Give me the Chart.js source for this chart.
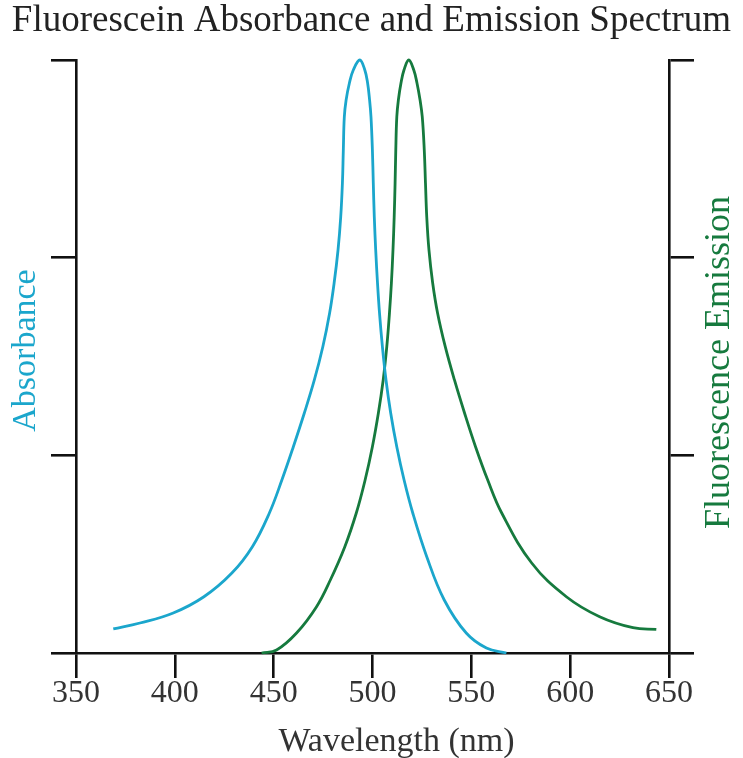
<!DOCTYPE html>
<html>
<head>
<meta charset="utf-8">
<script src="https://cdn.jsdelivr.net/npm/chart.js@4/dist/chart.umd.min.js"></script>
<style>
  html, body { margin: 0; padding: 0; background: #ffffff; }
  #wrap { width: 743px; height: 758px; position: relative; }
</style>
</head>
<body>
<div id="wrap"><canvas id="c" width="743" height="758"></canvas></div>
<script>
const chartTitle = 'Fluorescein Absorbance and Emission Spectrum';
const xAxisLabel = 'Wavelength (nm)';
const absorbanceLabel = 'Absorbance';
const emissionLabel = 'Fluorescence Emission';

const xTickValues = [350, 400, 450, 500, 550, 600, 650];
const yTickValues = [0, 33.333, 66.667, 100];

const absWavelength = [368.86, 382.36, 399.19, 414.71, 428.87, 439.23, 447.83, 454.15, 459.96, 465.52, 470.58, 474.87, 478.31, 480.59, 482.56, 483.92, 484.78, 485.24, 485.74, 486.65, 488.32, 490.29, 493.58,
                       496.11, 497.52, 498.53, 499.24, 499.95, 500.40, 500.91, 501.62, 502.53, 503.54, 505.01, 506.83, 509.20, 512.28, 515.98, 520.37, 527.45, 536.30, 547.42, 557.63, 567.75];
const absValue      = [4.05, 5.06, 6.75, 9.49, 13.49, 17.93, 23.61, 29.17, 34.79, 40.47, 46.04, 51.65, 57.34, 62.39, 67.96, 73.52, 79.26, 84.82, 90.39, 93.25, 96.12, 98.31, 100,
                       98.31, 96.12, 93.25, 90.39, 84.82, 79.26, 73.52, 67.96, 62.39, 57.34, 51.65, 46.04, 40.47, 34.79, 29.17, 23.61, 16.24, 8.94, 3.37, 0.84, 0];

const emWavelength = [443.88, 451.47, 461.58, 471.69, 478.67, 486.00, 491.81, 496.26, 499.95, 502.98, 505.41, 507.23, 508.59, 509.56, 510.36, 510.97, 511.43, 511.78, 512.29, 513.09, 514.41, 515.93, 518.35,
                      520.88, 522.50, 524.06, 525.18, 526.19, 526.80, 527.45, 528.56, 530.44, 532.91, 536.81, 541.46, 546.56, 552.12, 558.29, 565.37, 580.54, 598.08, 614.91, 631.75, 643.58];
const emValue      = [0, 0.51, 3.37, 7.81, 12.31, 17.93, 23.61, 29.17, 34.79, 40.47, 46.04, 51.65, 57.34, 62.39, 67.96, 73.52, 79.26, 84.82, 90.39, 93.25, 96.12, 98.31, 100,
                      98.31, 96.12, 93.25, 90.39, 84.82, 79.26, 73.52, 67.96, 62.39, 57.34, 51.65, 46.04, 40.47, 34.79, 29.17, 23.61, 15.18, 9.49, 6.12, 4.27, 4.0];

const blue = '#1ba6cc';
const green = '#167a3e';
const ink = '#111111';
const serif = '"Liberation Serif", "Times New Roman", serif';

const absData = absWavelength.map((x, i) => ({ x: x, y: absValue[i] }));
const emData = emWavelength.map((x, i) => ({ x: x, y: emValue[i] }));

// draws the axis titles (right one reads bottom-to-top like the reference)
const axisTitlePlugin = {
  id: 'axisTitles',
  afterDraw(chart, args, opts) {
    const ctx = chart.ctx;
    const area = chart.chartArea;
    const midY = (area.top + area.bottom) / 2;
    ctx.save();
    ctx.textAlign = 'center';
    ctx.textBaseline = 'middle';
    ctx.font = opts.xFont;
    ctx.fillStyle = opts.xColor;
    ctx.fillText(opts.xText, (area.left + area.right) / 2 + opts.xDx, opts.xY);
    ctx.restore();

    ctx.save();
    ctx.textAlign = 'center';
    ctx.textBaseline = 'middle';
    ctx.font = opts.lFont;
    ctx.fillStyle = opts.lColor;
    ctx.translate(opts.lX, midY + opts.lDy);
    ctx.rotate(-Math.PI / 2);
    ctx.fillText(opts.lText, 0, 0);
    ctx.restore();

    ctx.save();
    ctx.textAlign = 'center';
    ctx.textBaseline = 'middle';
    ctx.font = opts.rFont;
    ctx.fillStyle = opts.rColor;
    ctx.translate(opts.rX, midY + opts.rDy);
    ctx.rotate(-Math.PI / 2);
    ctx.fillText(opts.rText, 0, 0);
    ctx.restore();
  }
};

const fixTicks = (scale) => { scale.ticks = yTickValues.map(v => ({ value: v })); };

new Chart(document.getElementById('c'), {
  type: 'line',
  data: {
    datasets: [
      { label: absorbanceLabel, data: absData, yAxisID: 'y', borderColor: blue, borderWidth: 2.8,
        pointRadius: 0, tension: 0.4, fill: false, clip: false },
      { label: emissionLabel, data: emData, yAxisID: 'y2', borderColor: green, borderWidth: 2.8,
        pointRadius: 0, tension: 0.4, fill: false, clip: false }
    ]
  },
  options: {
    responsive: false,
    animation: false,
    events: [],
    layout: { padding: 0 },
    plugins: {
      legend: { display: false },
      tooltip: { enabled: false },
      title: {
        display: true, text: chartTitle, color: '#222222',
        font: { family: serif, size: 37, weight: 'normal', lineHeight: 1 },
        padding: { top: 3, bottom: 20 }
      },
      axisTitles: {
        xText: xAxisLabel, xColor: '#333333', xFont: '34px ' + serif, xDx: 24, xY: 742,
        lText: absorbanceLabel, lColor: blue, lFont: '34px ' + serif, lX: 26, lDy: -6,
        rText: emissionLabel, rColor: green, rFont: '36px ' + serif, rX: 720, rDy: 6
      }
    },
    scales: {
      x: {
        type: 'linear', position: 'bottom', min: 350, max: 650,
        afterBuildTicks: (s) => { s.ticks = xTickValues.map(v => ({ value: v })); },
        afterFit: (s) => { s.height = 105; },
        grid: { drawOnChartArea: false, drawTicks: true, tickLength: 25, color: ink, lineWidth: 2.6 },
        border: { display: true, color: ink, width: 2.6 },
        ticks: { color: '#333333', padding: 0, font: { family: serif, size: 32, lineHeight: 1 } },
        title: { display: false, text: xAxisLabel }
      },
      y: {
        type: 'linear', position: 'left', min: 0, max: 100,
        afterBuildTicks: fixTicks,
        afterFit: (s) => { s.width = 76; },
        grid: { drawOnChartArea: false, drawTicks: true, tickLength: 25, color: ink, lineWidth: 2.6 },
        border: { display: true, color: ink, width: 2.6 },
        ticks: { display: false },
        title: { display: false, text: absorbanceLabel }
      },
      y2: {
        type: 'linear', position: 'right', min: 0, max: 100,
        afterBuildTicks: fixTicks,
        afterFit: (s) => { s.width = 74; },
        grid: { drawOnChartArea: false, drawTicks: true, tickLength: 25, color: ink, lineWidth: 2.6 },
        border: { display: true, color: ink, width: 2.6 },
        ticks: { display: false },
        title: { display: false, text: emissionLabel }
      }
    }
  },
  plugins: [axisTitlePlugin]
});
</script>
</body>
</html>
